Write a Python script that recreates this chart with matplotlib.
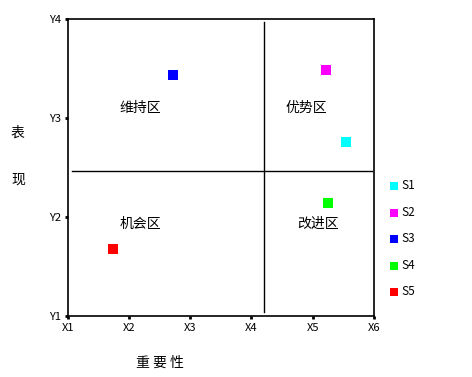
import matplotlib.pyplot as plt

plt.rcParams['font.family'] = ['Noto Sans CJK SC', 'DejaVu Sans']

# data
series = ['S1', 'S2', 'S3', 'S4', 'S5']
x_vals = [5.54, 5.22, 2.72, 5.25, 1.74]
y_vals = [2.76, 3.48, 3.43, 2.14, 1.68]
colors = ['#00ffff', '#ff00ff', '#0000ff', '#00ff00', '#ff0000']

x_ticks = [1, 2, 3, 4, 5, 6]
x_labels = ['X1', 'X2', 'X3', 'X4', 'X5', 'X6']
y_ticks = [1, 2, 3, 4]
y_labels = ['Y1', 'Y2', 'Y3', 'Y4']

x_split = 4.2
y_split = 2.46

zones = ['维持区', '优势区', '机会区', '改进区']
zone_x = [2.18, 4.89, 2.18, 5.08]
zone_y = [3.10, 3.10, 1.93, 1.93]

fig = plt.figure(figsize=(4.72, 3.77), dpi=100)
ax = fig.add_axes([0.144, 0.162, 0.648, 0.788])

for i in range(len(series)):
    ax.scatter(x_vals[i], y_vals[i], s=45, marker='s', color=colors[i],
               label=series[i], zorder=3, linewidths=0)

# quadrant lines
ax.plot([x_split, x_split], [1.04, 3.97], color='black', linewidth=1)
ax.plot([1.06, 5.97], [y_split, y_split], color='black', linewidth=1)

for t, zx, zy in zip(zones, zone_x, zone_y):
    ax.text(zx, zy, t, ha='center', va='center', fontsize=10)

ax.set_xlim(1, 6)
ax.set_ylim(1, 4)
ax.set_xticks(x_ticks)
ax.set_xticklabels(x_labels, fontsize=8)
ax.set_yticks(y_ticks)
ax.set_yticklabels(y_labels, fontsize=8)
ax.tick_params(direction='out', length=2, width=2, pad=3)
for s in ax.spines.values():
    s.set_linewidth(1.2)

fig.text(0.339, 0.037, '重 要 性', ha='center', va='center', fontsize=10)
fig.text(0.038, 0.647, '表', ha='center', va='center', fontsize=10)
fig.text(0.038, 0.523, '现', ha='center', va='center', fontsize=10)

ax.legend(loc='center left', bbox_to_anchor=(1.03, 0.26), frameon=False,
          fontsize=8.5, handletextpad=0.2, labelspacing=1.15, markerscale=0.8,
          handlelength=1.0, borderaxespad=0)

fig.savefig('out.png', dpi=100)
